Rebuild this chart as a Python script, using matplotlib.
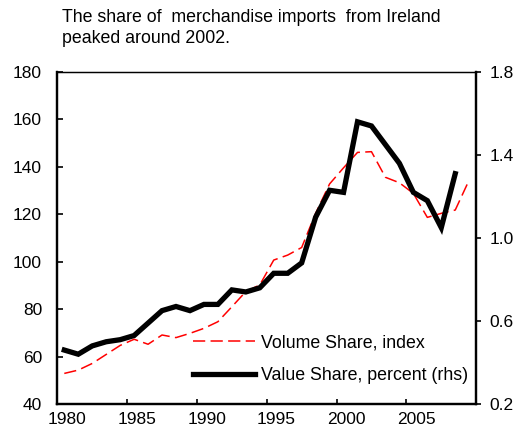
import matplotlib
matplotlib.use("Agg")
import matplotlib.pyplot as plt
from matplotlib.ticker import FixedLocator

plt.rcParams['font.family'] = ['Liberation Sans', 'DejaVu Sans']
plt.rcParams['font.size'] = 12.5

years = list(range(1980, 2010))
volume_share = [52.9, 54.3, 57.1, 60.9, 64.7, 67.3, 65.2, 69.1, 68.0, 69.8,
                71.9, 74.7, 81.0, 87.4, 90.2, 100.7, 102.8, 106.0, 120.4, 132.8,
                139.6, 146.1, 146.4, 135.6, 133.3, 128.8, 118.7, 120.4, 121.8, 134.5]
value_share = [0.46, 0.44, 0.48, 0.50, 0.51, 0.53, 0.59, 0.65, 0.67, 0.65,
               0.68, 0.68, 0.75, 0.74, 0.76, 0.83, 0.83, 0.88, 1.10, 1.23,
               1.22, 1.56, 1.54, 1.45, 1.36, 1.22, 1.18, 1.05, 1.31]
label_years = [1980, 1985, 1990, 1995, 2000, 2005]

fig = plt.figure(figsize=(5.21, 4.38), dpi=100)
ax = fig.add_axes([0.110, 0.0776, 0.804, 0.758])
ax2 = ax.twinx()

x_vol = [y - years[0] for y in years]
x_val = x_vol[:len(value_share)]

l1, = ax.plot(x_vol, volume_share, color='#ff0000', lw=1.1, dashes=(8, 3.5),
              label='Volume Share, index')
l2, = ax2.plot(x_val, value_share, color='black', lw=3.8,
               solid_joinstyle='miter', label='Value Share, percent (rhs)')

ax.set_xlim(-0.5, len(years) - 0.5)
ax.set_ylim(40, 180)
ax.set_yticks(range(40, 181, 20))
ax2.set_ylim(0.2, 1.8)
ax2.set_yticks([0.2, 0.6, 1.0, 1.4, 1.8])
ax2.set_yticklabels(['0.2', '0.6', '1.0', '1.4', '1.8'])

# category axis: ticks between categories, labels on category centres
ax.xaxis.set_major_locator(FixedLocator([i - 0.5 for i in range(0, 31, 5)]))
ax.set_xticklabels([])
ax.xaxis.set_minor_locator(FixedLocator([y - years[0] + 0.2 for y in label_years]))
ax.set_xticklabels([str(y) for y in label_years], minor=True)
ax.tick_params(axis='x', which='major', direction='in', length=3.5, width=1.2)
ax.tick_params(axis='x', which='minor', length=0, pad=6)
ax.tick_params(axis='y', direction='in', length=4.5, width=1.2, pad=11)
ax2.tick_params(axis='y', direction='out', length=3.5, width=1.2, pad=6)

for a in (ax, ax2):
    for side in ('left', 'right', 'bottom'):
        a.spines[side].set_linewidth(1.6)
    a.spines['top'].set_linewidth(0.9)

ax2.legend(handles=[l1, l2], loc='lower left', bbox_to_anchor=(0.324, 0.06),
           frameon=False, borderpad=0, borderaxespad=0, handlelength=3.5,
           handletextpad=0.3, labelspacing=0.9, fontsize=12.8)

fig.text(0.119, 0.98, 'The share of  merchandise imports  from Ireland\npeaked around 2002.',
         ha='left', va='top', fontsize=12.8, linespacing=1.3)

fig.savefig('out.png', dpi=100)
